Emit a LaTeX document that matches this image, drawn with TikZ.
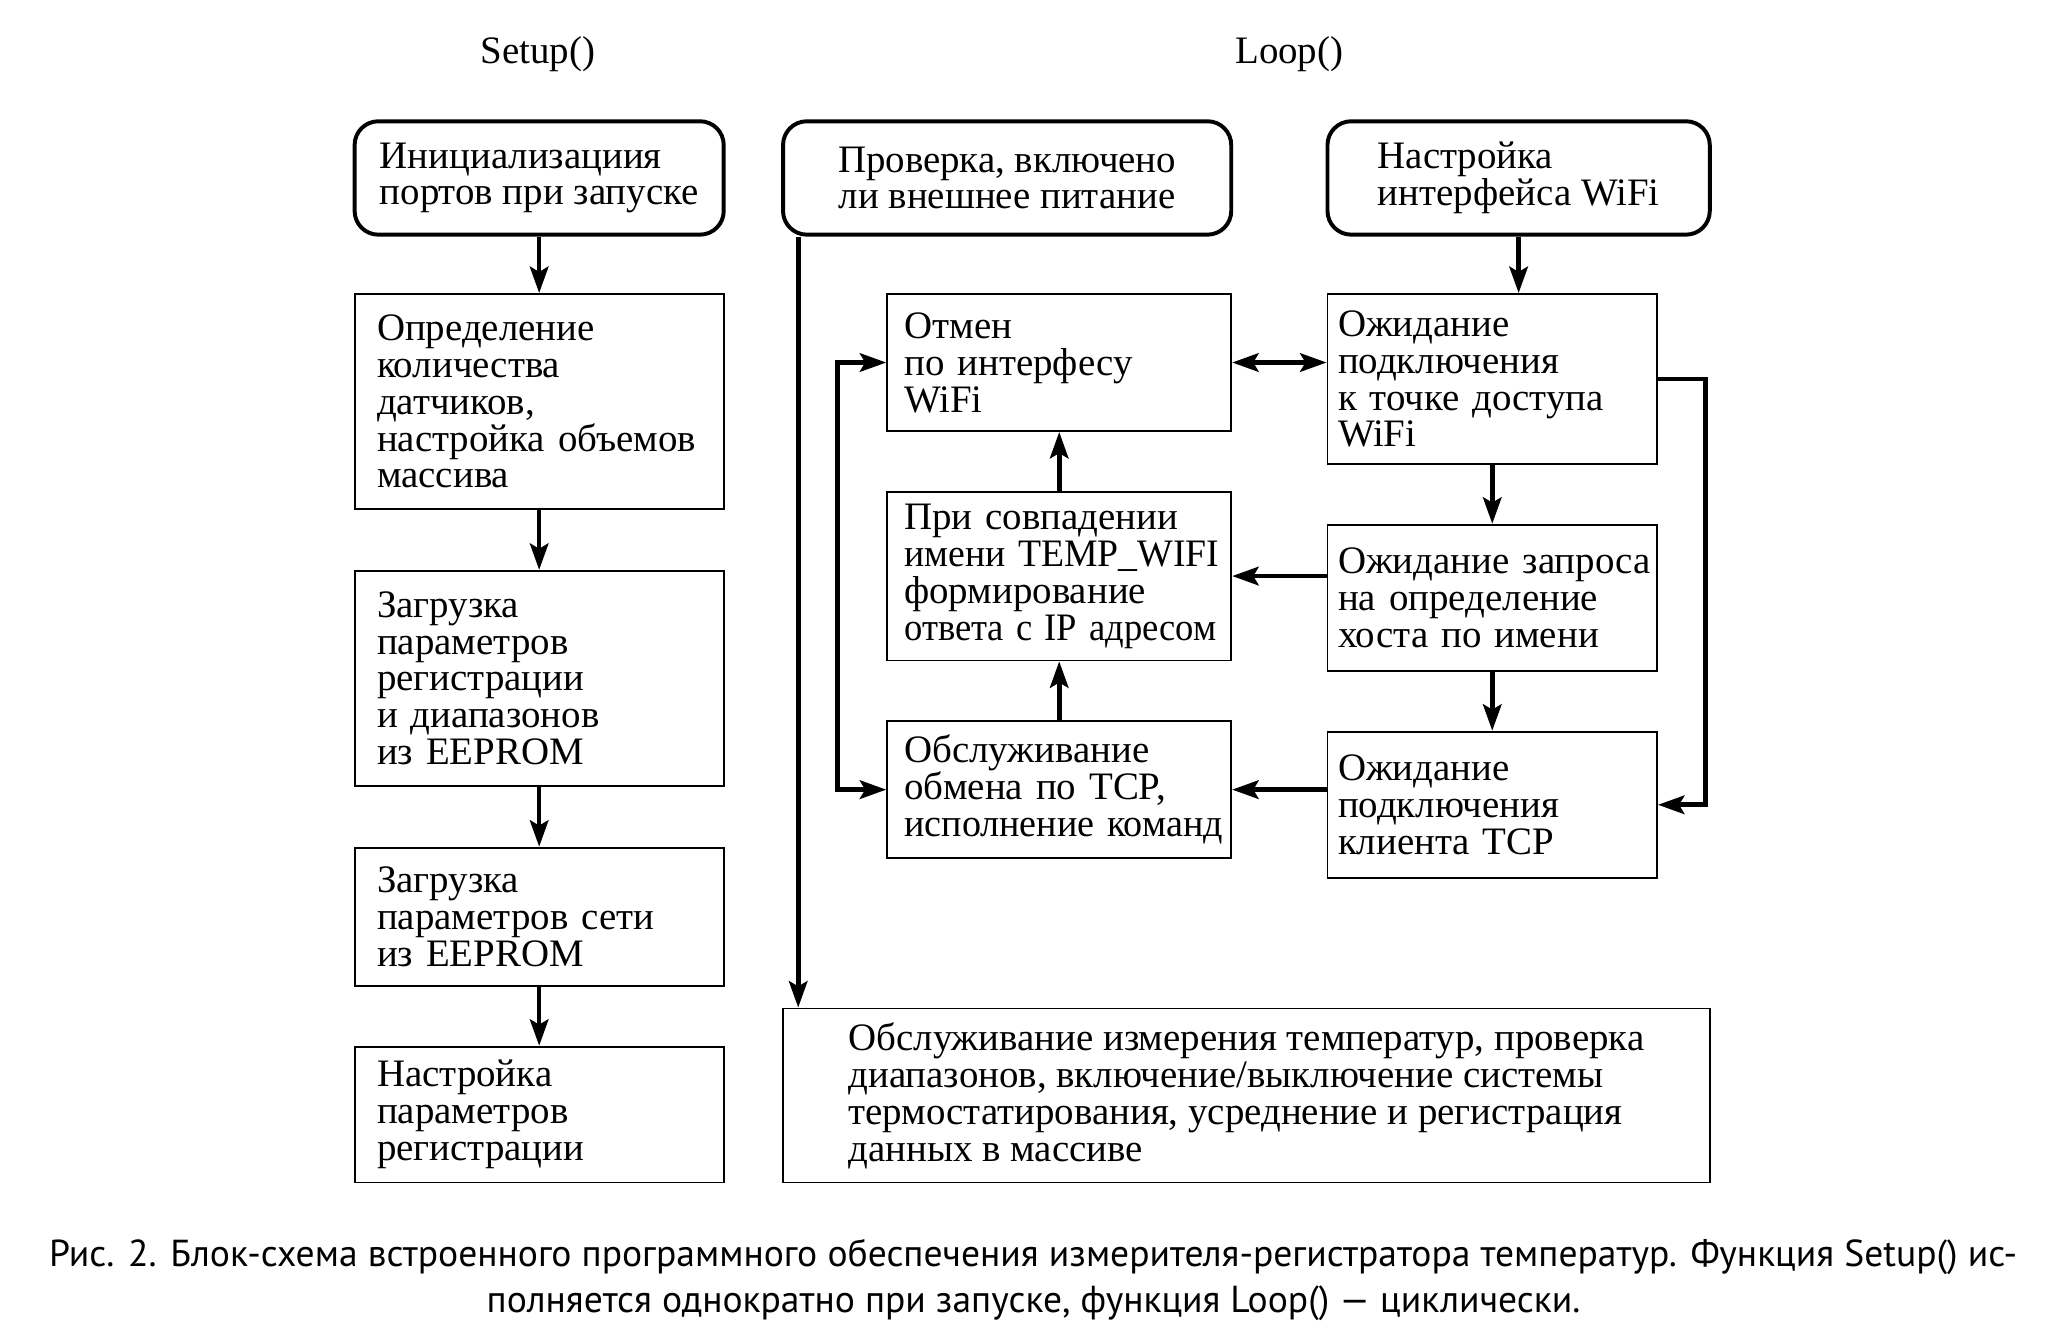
\documentclass[tikz,border=0pt]{standalone}
\usepackage{fontspec}
\setmainfont{Liberation Serif}
\newfontfamily\capfont{PT Sans}
\usetikzlibrary{arrows.meta,calc}
\begin{document}
\begin{tikzpicture}[x=1pt,y=-1pt,
  txt/.style={font=\fontsize{29.5}{28}\selectfont},
  sqbox/.style={txt, draw, line width=1.4pt, align=left, inner ysep=0pt},
  rbox/.style={txt, draw, line width=3pt, rounded corners=18pt, inner ysep=0pt},
  arr/.style={line width=3.5pt, -{Stealth[length=20pt,width=14pt,inset=4pt]}},
  arrb/.style={line width=3.5pt, {Stealth[length=20pt,width=14pt,inset=4pt]}-{Stealth[length=20pt,width=14pt,inset=4pt]}}
]
\useasboundingbox[fill=white] (0,0) rectangle (1568,1007);

\node[txt] (tS) at (408,41) {Setup()};
\node[txt] (tL) at (978,41) {Loop()};

% Setup column
\node[rbox, align=left, minimum width=280pt, minimum height=86pt] (B1) at (409,135)
  {Инициализациия\\портов при запуске};
\node[sqbox, inner xsep=17pt, text width=246pt, minimum height=163pt] (B2) at (409,304.5)
  {Определение\\количества\\датчиков,\\настройка~объемов\\массива};
\node[sqbox, inner xsep=17pt, text width=246pt, minimum height=163pt] (B3) at (409,514.5)
  {Загрузка\\параметров\\регистрации\\и~диапазонов\\из~EEPROM};
\node[sqbox, inner xsep=17pt, text width=246pt, minimum height=105pt] (B4) at (409,695.5)
  {Загрузка\\параметров~сети\\из~EEPROM};
\node[sqbox, inner xsep=17pt, text width=246pt, minimum height=103pt] (B5) at (409,845.5)
  {Настройка\\параметров\\регистрации};

% Loop
\node[rbox, align=center, minimum width=340pt, minimum height=86pt] (L1) at (764,135)
  {Проверка, включено\\ли внешнее питание};
\node[rbox, align=left, minimum width=290pt, minimum height=86pt] (L2) at (1152,135)
  {Настройка\\интерфейса WiFi};

\node[sqbox, inner xsep=13pt, text width=235pt, minimum height=104pt] (M1) at (803.5,275)
  {Отмен\\по~интерфесу\\WiFi};
\node[sqbox, inner xsep=13pt, text width=235pt, minimum height=128pt] (M2) at (803.5,437)
  {При~совпадении\\\scalebox{0.97}[1]{имени~TEMP\_WIFI}\\формирование\\\scalebox{0.94}[1]{ответа~с~IP~адресом}};
\node[sqbox, inner xsep=13pt, text width=235pt, minimum height=104pt] (M3) at (803.5,599)
  {Обслуживание\\обмена~по~TCP,\\\scalebox{0.98}[1]{исполнение~команд}};

\node[sqbox, inner xsep=8pt, text width=234pt, minimum height=129pt] (R1) at (1132,287.5)
  {Ожидание\\подключения\\к~точке~доступа\\WiFi};
\node[sqbox, inner xsep=8pt, text width=234pt, minimum height=111pt] (R2) at (1132,453.5)
  {Ожидание~запроса\\на~определение\\хоста~по~имени};
\node[sqbox, inner xsep=8pt, text width=234pt, minimum height=111pt] (R3) at (1132,610.5)
  {Ожидание\\подключения\\клиента~TCP};

\node[sqbox, minimum width=703pt, minimum height=132pt] (Bot) at (945.5,831)
  {Обслуживание измерения температур, проверка\\диапазонов, включение/выключение системы\\термостатирования, усреднение и регистрация\\данных в массиве};

% connectors
\draw[arr] (B1) -- (B2);
\draw[arr] (B2) -- (B3);
\draw[arr] (B3) -- (B4);
\draw[arr] (B4) -- (B5);

\draw[arr] (L2.south) -- (L2.south |- R1.north);
\draw[arrb] (M1.east) -- (M1.east -| R1.west);
\draw[arr] (R1) -- (R2);
\draw[arr] (R2) -- (R3);
\draw[arr] (R2.west |- M2.east) -- (M2.east);
\draw[arr] (R3.west |- M3.east) -- (M3.east);
\draw[arr] (M3) -- (M2);
\draw[arr] (M2) -- (M1);
\draw[arr] (R1.east) -- ++(36,0) |- (R3.east);
\draw[arrb] (M1.west) -- ++(-37,0) |- (M3.west);
\coordinate (Ls) at ([xshift=13pt]L1.south west);
\draw[arr] (Ls) -- (Ls |- Bot.north);

% caption
\node[font=\capfont\fontsize{28.5}{35}\selectfont, anchor=base west, inner sep=0pt] (cap1) at (37,961)
  {\makebox[1493pt][s]{Рис. 2. Блок-схема встроенного программного обеспечения измерителя-регистратора температур. Функция Setup() ис-}};
\node[font=\capfont\fontsize{28.5}{35}\selectfont, anchor=base, inner sep=0pt] (cap2) at (784,996)
  {полняется однократно при запуске, функция Loop() — циклически.};
\end{tikzpicture}
\end{document}
